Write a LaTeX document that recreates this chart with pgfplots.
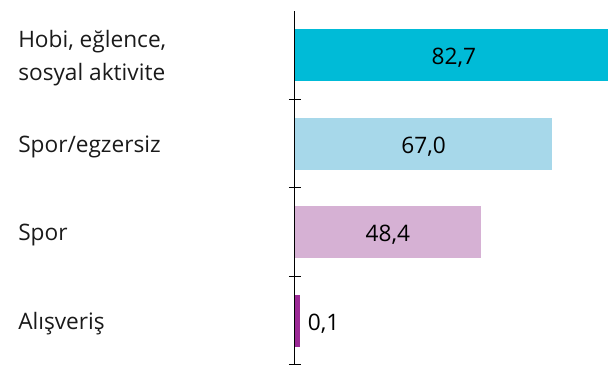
\documentclass[border=0pt]{standalone}
\usepackage{fontspec}
\setmainfont{Open Sans}
\usepackage{pgfplots}
\pgfplotsset{compat=1.18}
\definecolor{c1}{HTML}{00BBD7}
\definecolor{c2}{HTML}{A7D8EA}
\definecolor{c3}{HTML}{D6B1D4}
\definecolor{c4}{HTML}{9C2A96}
\definecolor{txt}{HTML}{1A1A1A}
\begin{document}
\begin{tikzpicture}
\begin{axis}[
  scale only axis,
  width=234.75pt, height=265.5pt,
  xmin=0, xmax=81.5,
  ymin=-0.5, ymax=3.5,
  axis x line=none,
  axis y line*=left,
  y axis line style={line width=0.75pt, black, -},
  ytick={-0.5,0.5,1.5,2.5},
  yticklabels={},
  major tick length=9pt,
  ytick align=outside,
  ytick style={line width=0.75pt, black, xshift=4.5pt},
  xbar, bar shift=0pt,
  bar width=0.588,
  axis on top,
  clip=false,
  font=\fontsize{17}{24.5}\selectfont,
]
\addplot[fill=c1, draw=none] coordinates {(82.7,3)};
\addplot[fill=c2, draw=none] coordinates {(67.0,2)};
\addplot[fill=c3, draw=none] coordinates {(48.4,1)};
\addplot[fill=c4, draw=c4, line width=3.5pt, bar width=0.535, xshift=1.75pt] coordinates {(0.1,0)};

\node[anchor=center, yshift=-2.25pt] at (axis cs:41.35,3) {82,7};
\node[anchor=center, yshift=-2.25pt] at (axis cs:33.5,2) {67,0};
\node[anchor=center, yshift=-2.25pt] at (axis cs:24.2,1) {48,4};
\node[anchor=west, inner sep=0pt, yshift=-2.25pt] at ([xshift=9.5pt]axis cs:0,0) {0,1};

\node[anchor=west, align=left, inner sep=0pt, text=txt, yshift=-2.25pt] at ([xshift=-207.75pt]axis cs:0,3) {Hobi, eğlence,\\sosyal aktivite};
\node[anchor=west, inner sep=0pt, text=txt, yshift=-2.25pt] at ([xshift=-207.75pt]axis cs:0,2) {Spor/egzersiz};
\node[anchor=west, inner sep=0pt, text=txt, yshift=-2.25pt] at ([xshift=-207.75pt]axis cs:0,1) {Spor};
\node[anchor=west, inner sep=0pt, text=txt, yshift=-2.25pt] at ([xshift=-207.75pt]axis cs:0,0) {Alışveriş};
\end{axis}
\pgfresetboundingbox
\path ([xshift=-221.25pt,yshift=-0.75pt]current axis.south west) rectangle ([yshift=8.25pt]current axis.north east);
\end{tikzpicture}
\end{document}
